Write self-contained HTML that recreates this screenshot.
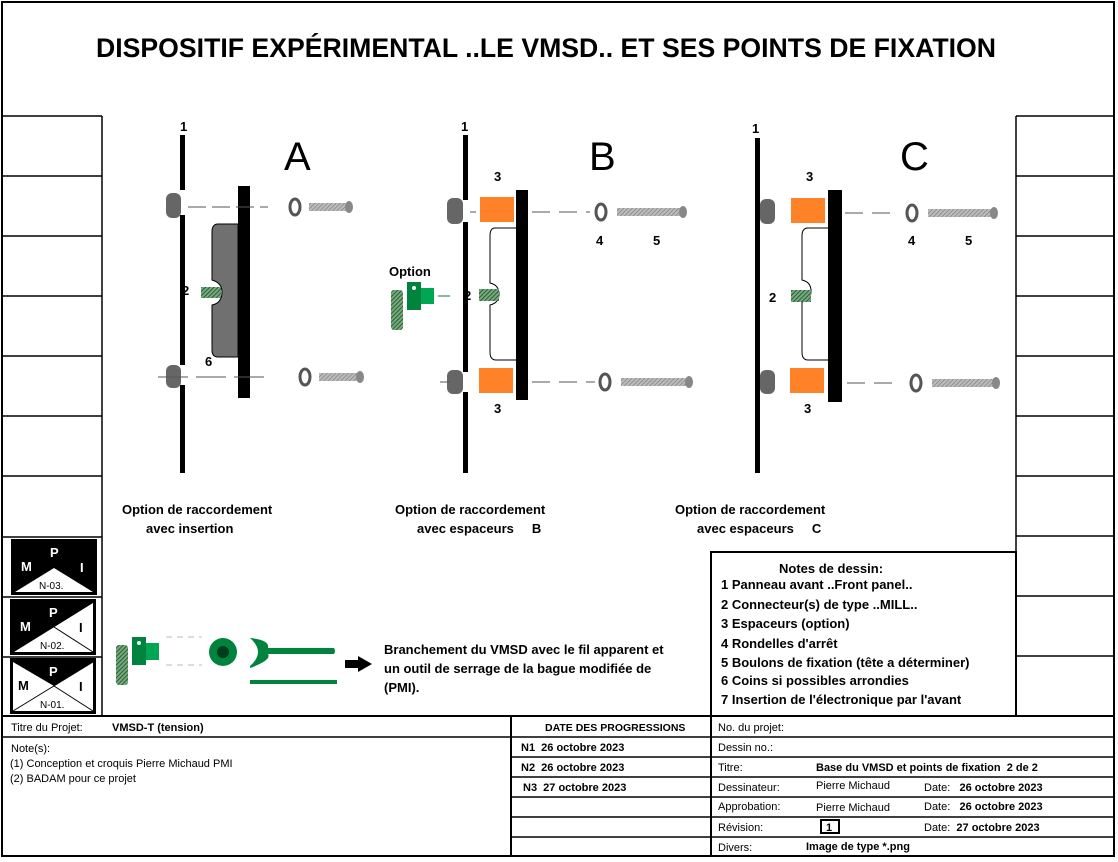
<!DOCTYPE html>
<html><head><meta charset="utf-8"><style>
body{margin:0;width:1118px;height:862px;background:#fff;overflow:hidden;font-family:"Liberation Sans",sans-serif}
svg{position:absolute;left:0;top:0}
text{font-family:"Liberation Sans",sans-serif}
.b{font-weight:bold}
</style></head><body>
<svg width="1118" height="862" viewBox="0 0 1118 862">
<defs>
<pattern id="hatch" width="3" height="3" patternUnits="userSpaceOnUse" patternTransform="rotate(45)"><rect width="3" height="3" fill="#bbb"/><line x1="0" y1="0" x2="0" y2="3" stroke="#777" stroke-width="1.2"/></pattern>
<pattern id="ghatch" width="3" height="3" patternUnits="userSpaceOnUse" patternTransform="rotate(45)"><rect width="3" height="3" fill="#7a7"/><line x1="0" y1="0" x2="0" y2="3" stroke="#143" stroke-width="1.5"/></pattern>
</defs>
<rect x="2" y="2" width="1112" height="854" fill="none" stroke="#000" stroke-width="2"/>
<text x="546" y="57" text-anchor="middle" class="b" font-size="27" textLength="900" lengthAdjust="spacingAndGlyphs">DISPOSITIF EXPÉRIMENTAL ..LE VMSD.. ET SES POINTS DE FIXATION</text>
<g stroke="#000" stroke-width="1.5" fill="none">
<line x1="2" y1="116" x2="102" y2="116"/><line x1="102" y1="116" x2="102" y2="716"/>
<line x1="2" y1="176" x2="102" y2="176"/><line x1="2" y1="236" x2="102" y2="236"/><line x1="2" y1="296" x2="102" y2="296"/><line x1="2" y1="356" x2="102" y2="356"/><line x1="2" y1="416" x2="102" y2="416"/><line x1="2" y1="476" x2="102" y2="476"/><line x1="2" y1="537" x2="102" y2="537"/><line x1="2" y1="597" x2="102" y2="597"/><line x1="2" y1="657" x2="102" y2="657"/>
<line x1="1016" y1="116" x2="1114" y2="116"/><line x1="1016" y1="116" x2="1016" y2="716"/>
<line x1="1016" y1="176" x2="1114" y2="176"/><line x1="1016" y1="236" x2="1114" y2="236"/><line x1="1016" y1="296" x2="1114" y2="296"/><line x1="1016" y1="356" x2="1114" y2="356"/><line x1="1016" y1="416" x2="1114" y2="416"/><line x1="1016" y1="476" x2="1114" y2="476"/><line x1="1016" y1="536" x2="1114" y2="536"/><line x1="1016" y1="596" x2="1114" y2="596"/><line x1="1016" y1="656" x2="1114" y2="656"/>
</g>
<g>
<rect x="11" y="539" width="86" height="56" fill="#000"/>
<polygon points="15,592 54,568 93,592" fill="#fff"/>
<rect x="10" y="599" width="86" height="56" fill="#000"/>
<polygon points="14,652 93,603 93,652" fill="#fff"/><line x1="54" y1="627" x2="93" y2="652" stroke="#000"/>
<rect x="10" y="658" width="86" height="56" fill="#000"/>
<polygon points="13,662 13,711 93,711 93,662 54,686" fill="#fff"/><line x1="13" y1="711" x2="93" y2="662" stroke="#000"/><line x1="54" y1="686" x2="93" y2="711" stroke="#000"/>
<g class="b" font-size="13"><text x="21" y="571" fill="#fff">M</text><text x="50" y="557" fill="#fff">P</text><text x="80" y="572" fill="#fff">I</text>
<text x="20" y="631" fill="#fff">M</text><text x="49" y="617" fill="#fff">P</text><text x="79" y="632">I</text>
<text x="18" y="690">M</text><text x="49" y="676" fill="#fff">P</text><text x="79" y="691">I</text></g>
<g font-size="10"><text x="39" y="589">N-03.</text><text x="40" y="649">N-02.</text><text x="40" y="708">N-01.</text></g>
</g>
<g>
<rect x="180" y="135" width="5" height="55" fill="#000"/><rect x="180" y="215" width="5" height="150" fill="#000"/><rect x="180" y="385" width="5" height="88" fill="#000"/>
<rect x="166" y="193" width="15" height="25" rx="6" fill="#666"/><rect x="166" y="365" width="15" height="23" rx="6" fill="#666"/>
<path d="M238,224 L218,224 Q212,224 212,232 L212,280 Q222,283 222,292 Q222,303 212,305 L212,350 Q212,357 218,357 L238,357 Z" fill="#707070" stroke="#000" stroke-width="1"/>
<rect x="238" y="186" width="12" height="212" fill="#000"/>
<rect x="201" y="287" width="20" height="11" fill="url(#ghatch)"/>
<line x1="188" y1="207" x2="268" y2="207" stroke="#555" stroke-dasharray="18,6"/>
<line x1="158" y1="377" x2="272" y2="377" stroke="#555" stroke-dasharray="30,8"/>
<ellipse cx="295" cy="207" rx="5" ry="8" fill="none" stroke="#555" stroke-width="3"/>
<rect x="309" y="203" width="42" height="8" fill="url(#hatch)"/><ellipse cx="349" cy="207" rx="4" ry="6" fill="#888"/>
<ellipse cx="305" cy="377" rx="5" ry="8" fill="none" stroke="#555" stroke-width="3"/>
<rect x="319" y="373" width="42" height="8" fill="url(#hatch)"/><ellipse cx="360" cy="377" rx="4" ry="6" fill="#888"/>
<text x="284" y="170" font-size="40">A</text>
<g class="b" font-size="13"><text x="180" y="131">1</text><text x="182" y="295">2</text><text x="205" y="366">6</text></g>
</g>
<g>
<rect x="463" y="135" width="5" height="65" fill="#000"/><rect x="463" y="222" width="5" height="150" fill="#000"/><rect x="463" y="392" width="5" height="81" fill="#000"/>
<rect x="447" y="198" width="16" height="26" rx="6" fill="#666"/><rect x="447" y="370" width="16" height="24" rx="6" fill="#666"/>
<rect x="480" y="197" width="34" height="25" fill="#ff8228"/><rect x="479" y="368" width="34" height="25" fill="#ff8228"/>
<path d="M516,228 L495,228 Q490,228 490,236 L490,283 Q499,285 499,294 Q499,303 490,305 L490,352 Q490,360 496,360 L516,360" fill="none" stroke="#000" stroke-width="1"/>
<rect x="516" y="190" width="12" height="210" fill="#000"/>
<rect x="479" y="289" width="20" height="12" fill="url(#ghatch)"/>
<line x1="470" y1="212" x2="476" y2="212" stroke="#555"/><line x1="532" y1="212" x2="590" y2="212" stroke="#555" stroke-dasharray="18,9"/>
<line x1="440" y1="382" x2="450" y2="382" stroke="#555"/><line x1="532" y1="382" x2="595" y2="382" stroke="#555" stroke-dasharray="18,9"/>
<ellipse cx="601" cy="212" rx="5" ry="8" fill="none" stroke="#555" stroke-width="3"/>
<rect x="617" y="208" width="66" height="8" fill="url(#hatch)"/><ellipse cx="683" cy="212" rx="4" ry="6" fill="#888"/>
<ellipse cx="605" cy="382" rx="5" ry="8" fill="none" stroke="#555" stroke-width="3"/>
<rect x="621" y="378" width="68" height="8" fill="url(#hatch)"/><ellipse cx="689" cy="382" rx="4" ry="6" fill="#888"/>
<rect x="391" y="290" width="12" height="40" rx="3" fill="url(#ghatch)"/>
<rect x="407" y="282" width="14" height="28" fill="#00843d"/><rect x="421" y="288" width="13" height="16" fill="#00a651"/>
<circle cx="414" cy="288" r="2" fill="#fff"/><line x1="438" y1="296" x2="450" y2="296" stroke="#00843d"/>
<text x="589" y="170" font-size="40">B</text>
<g class="b" font-size="13"><text x="461" y="131">1</text><text x="494" y="181">3</text><text x="494" y="413">3</text><text x="596" y="245">4</text><text x="653" y="245">5</text><text x="464" y="300">2</text><text x="389" y="276">Option</text></g>
</g>
<g>
<rect x="755" y="138" width="5" height="335" fill="#000"/>
<rect x="760" y="199" width="15" height="25" rx="6" fill="#666"/><rect x="760" y="370" width="15" height="24" rx="6" fill="#666"/>
<rect x="791" y="198" width="34" height="25" fill="#ff8228"/><rect x="790" y="368" width="34" height="25" fill="#ff8228"/>
<path d="M828,228 L808,228 Q802,228 802,236 L802,280 Q811,282 811,291 Q811,300 802,302 L802,352 Q802,360 808,360 L828,360" fill="none" stroke="#000" stroke-width="1"/>
<rect x="828" y="190" width="14" height="212" fill="#000"/>
<rect x="791" y="290" width="20" height="12" fill="url(#ghatch)"/>
<line x1="845" y1="213" x2="890" y2="213" stroke="#555" stroke-dasharray="18,9"/>
<line x1="847" y1="383" x2="900" y2="383" stroke="#555" stroke-dasharray="18,9"/>
<ellipse cx="912" cy="213" rx="5" ry="8" fill="none" stroke="#555" stroke-width="3"/>
<rect x="928" y="209" width="66" height="8" fill="url(#hatch)"/><ellipse cx="994" cy="213" rx="4" ry="6" fill="#888"/>
<ellipse cx="916" cy="383" rx="5" ry="8" fill="none" stroke="#555" stroke-width="3"/>
<rect x="932" y="379" width="66" height="8" fill="url(#hatch)"/><ellipse cx="996" cy="383" rx="4" ry="6" fill="#888"/>
<text x="900" y="170" font-size="40">C</text>
<g class="b" font-size="13"><text x="752" y="133">1</text><text x="806" y="181">3</text><text x="804" y="413">3</text><text x="908" y="245">4</text><text x="965" y="245">5</text><text x="769" y="302">2</text></g>
</g>
<g class="b" font-size="13">
<text x="122" y="514">Option de raccordement</text><text x="146" y="533">avec insertion</text>
<text x="395" y="514">Option de raccordement</text><text x="417" y="533">avec espaceurs&#160;&#160;&#160;&#160; B</text>
<text x="675" y="514">Option de raccordement</text><text x="697" y="533">avec espaceurs&#160;&#160;&#160;&#160; C</text>
</g>
<rect x="711" y="552" width="305" height="164" fill="none" stroke="#000" stroke-width="2"/>
<g class="b" font-size="13">
<text x="779" y="573">Notes de dessin:</text>
<text x="721" y="589">1 Panneau avant ..Front panel..</text>
<text x="721" y="609">2 Connecteur(s) de type ..MILL..</text>
<text x="721" y="628">3 Espaceurs (option)</text>
<text x="721" y="648">4 Rondelles d'arrêt</text>
<text x="721" y="667">5 Boulons de fixation (tête a déterminer)</text>
<text x="721" y="685">6 Coins si possibles arrondies</text>
<text x="721" y="704">7 Insertion de l'électronique par l'avant</text>
</g>
<rect x="116" y="645" width="12" height="40" rx="3" fill="url(#ghatch)"/>
<rect x="132" y="637" width="14" height="28" fill="#00843d"/><rect x="146" y="643" width="13" height="17" fill="#00a651"/>
<circle cx="139" cy="643" r="2" fill="#fff"/>
<line x1="166" y1="637" x2="202" y2="637" stroke="#bbb" stroke-dasharray="6,5"/><line x1="166" y1="665" x2="202" y2="665" stroke="#bbb" stroke-dasharray="6,5"/>
<circle cx="223" cy="652" r="14" fill="#00843d"/><circle cx="223" cy="652" r="6" fill="#003d1c"/>
<path d="M250,638 Q266,652 250,666 L250,668 Q272,660 268,654 L334,654 Q336,651 334,648 L268,648 Q270,640 250,638 Z" fill="#00843d"/>
<rect x="250" y="680" width="87" height="4" fill="#00843d"/>
<polygon points="345,660 358,660 358,656 372,664 358,672 358,668 345,668" fill="#000"/>
<g class="b" font-size="13"><text x="384" y="654">Branchement du VMSD avec le fil apparent et</text><text x="384" y="673">un outil de serrage de la bague modifiée de</text><text x="384" y="692">(PMI).</text></g>
<g stroke="#000" stroke-width="1.5" fill="none">
<line x1="2" y1="716" x2="1114" y2="716" stroke-width="2"/>
<line x1="511" y1="716" x2="511" y2="856" stroke-width="2"/><line x1="711" y1="716" x2="711" y2="856" stroke-width="2"/>
<line x1="2" y1="737" x2="511" y2="737"/>
<line x1="511" y1="737" x2="1114" y2="737"/><line x1="511" y1="757" x2="1114" y2="757"/><line x1="511" y1="777" x2="1114" y2="777"/><line x1="511" y1="797" x2="1114" y2="797"/><line x1="511" y1="817" x2="1114" y2="817"/><line x1="511" y1="837" x2="1114" y2="837"/>
<rect x="821" y="820" width="18" height="13" stroke-width="2"/>
</g>
<g font-size="11">
<text x="11" y="731">Titre du Projet:</text><text x="112" y="731" class="b">VMSD-T (tension)</text>
<text x="11" y="752">Note(s):</text><text x="10" y="767">(1) Conception et croquis Pierre Michaud PMI</text><text x="10" y="782">(2) BADAM pour ce projet</text>
<text x="545" y="731" class="b" font-size="10.5">DATE DES PROGRESSIONS</text>
<text x="521" y="751" class="b">N1&#160; 26 octobre 2023</text><text x="521" y="771" class="b">N2&#160; 26 octobre 2023</text><text x="523" y="791" class="b">N3&#160; 27 octobre 2023</text>
<text x="718" y="731">No. du projet:</text><text x="718" y="751">Dessin no.:</text>
<text x="718" y="771">Titre:</text><text x="816" y="771" class="b">Base du VMSD et points de fixation&#160; 2 de 2</text>
<text x="718" y="791">Dessinateur:</text><text x="816" y="789">Pierre Michaud</text><text x="924" y="791">Date:&#160;&#160; <tspan class="b">26 octobre 2023</tspan></text>
<text x="718" y="810">Approbation:</text><text x="816" y="811">Pierre Michaud</text><text x="924" y="810">Date:&#160;&#160; <tspan class="b">26 octobre 2023</tspan></text>
<text x="718" y="831">Révision:</text><text x="826" y="831" class="b">1</text><text x="924" y="831">Date:&#160; <tspan class="b">27 octobre 2023</tspan></text>
<text x="718" y="851">Divers:</text><text x="806" y="850" class="b">Image de type *.png</text>
</g>
</svg>
</body></html>
